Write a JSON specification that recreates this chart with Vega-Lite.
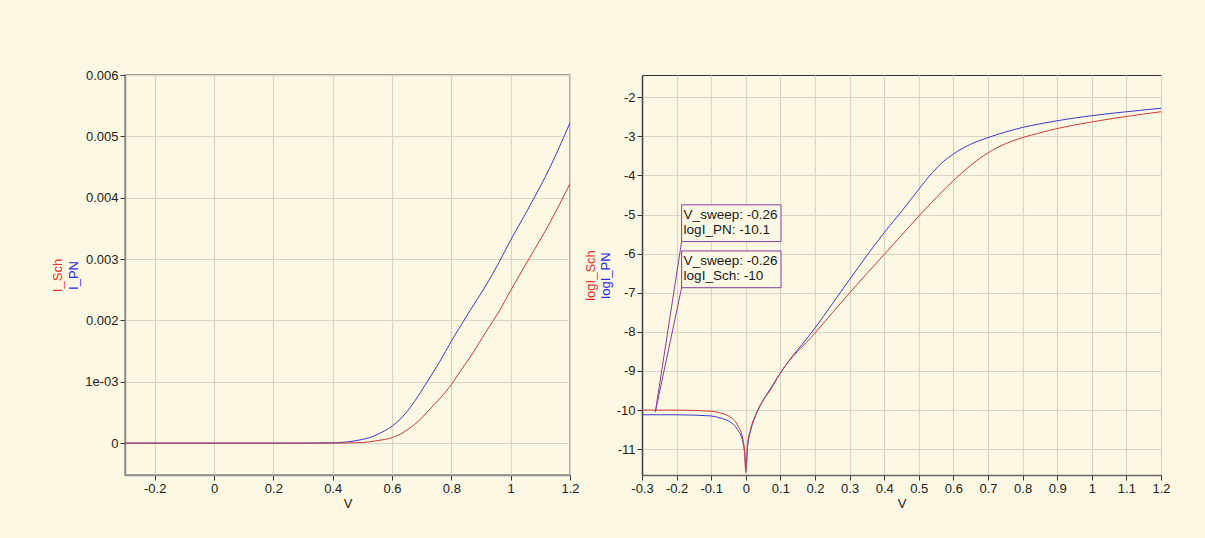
{
  "$schema": "https://vega.github.io/schema/vega-lite/v6.json",
  "background": "#fdf8e3",
  "padding": {"left": 50, "top": 68, "right": 54, "bottom": 30},
  "spacing": 3,
  "config": {
    "view": {"fill": "#fdf8e3"},
    "axis": {
      "labelFont": "Liberation Sans", "labelFontSize": 13, "labelColor": "#222222",
      "titleFont": "Liberation Sans", "titleFontSize": 13, "titleFontWeight": "normal", "titleColor": "#222222",
      "gridColor": "#d9d4c6", "gridWidth": 1.2, "tickColor": "#333333", "tickSize": 5, "labelPadding": 2,
      "domainColor": "#8c8c8c", "domainWidth": 1.5, "labelOverlap": false, "labelBound": false, "labelFlush": false
    }
  },
  "datasets": {
    "I_PN": [
      {"V": -0.3, "I": 0}, {"V": 0.3, "I": 0}, {"V": 0.4, "I": 0.000005}, {"V": 0.45, "I": 0.00002},
      {"V": 0.5, "I": 0.00006}, {"V": 0.526, "I": 0.00009}, {"V": 0.55, "I": 0.00014}, {"V": 0.575, "I": 0.0002},
      {"V": 0.601, "I": 0.00028}, {"V": 0.63, "I": 0.0004}, {"V": 0.661, "I": 0.00058}, {"V": 0.69, "I": 0.00078},
      {"V": 0.717, "I": 0.00099}, {"V": 0.76, "I": 0.00132}, {"V": 0.801, "I": 0.00167}, {"V": 0.83, "I": 0.0019},
      {"V": 0.863, "I": 0.00216}, {"V": 0.919, "I": 0.00259}, {"V": 0.96, "I": 0.00294}, {"V": 0.999, "I": 0.0033},
      {"V": 1.065, "I": 0.00387}, {"V": 1.133, "I": 0.0045}, {"V": 1.2, "I": 0.00522}
    ],
    "I_Sch": [
      {"V": -0.3, "I": 0}, {"V": 0.4, "I": 0}, {"V": 0.5, "I": 0.00001}, {"V": 0.55, "I": 0.00004},
      {"V": 0.601, "I": 0.00009}, {"V": 0.63, "I": 0.00015}, {"V": 0.661, "I": 0.00025}, {"V": 0.69, "I": 0.00036},
      {"V": 0.717, "I": 0.0005}, {"V": 0.76, "I": 0.00072}, {"V": 0.801, "I": 0.00096}, {"V": 0.83, "I": 0.00117},
      {"V": 0.863, "I": 0.0014}, {"V": 0.919, "I": 0.00183}, {"V": 0.96, "I": 0.00214}, {"V": 0.999, "I": 0.00248},
      {"V": 1.065, "I": 0.00303}, {"V": 1.133, "I": 0.0036}, {"V": 1.2, "I": 0.00423}
    ],
    "logI_PN": [
      {"V": -0.3, "L": -10.12}, {"V": -0.2, "L": -10.12}, {"V": -0.1, "L": -10.15}, {"V": -0.075, "L": -10.2},
      {"V": -0.048, "L": -10.29}, {"V": -0.024, "L": -10.5}, {"V": -0.009, "L": -10.8}, {"V": -0.003, "L": -11.15},
      {"V": 0, "L": -11.5}, {"V": 0.005, "L": -10.95}, {"V": 0.015, "L": -10.5}, {"V": 0.03, "L": -10.1},
      {"V": 0.05, "L": -9.75}, {"V": 0.07, "L": -9.47}, {"V": 0.1, "L": -9.05}, {"V": 0.2, "L": -7.9},
      {"V": 0.3, "L": -6.66}, {"V": 0.4, "L": -5.46}, {"V": 0.45, "L": -4.92}, {"V": 0.5, "L": -4.35},
      {"V": 0.54, "L": -3.92}, {"V": 0.57, "L": -3.65}, {"V": 0.6, "L": -3.45}, {"V": 0.65, "L": -3.2}, {"V": 0.7, "L": -3.03},
      {"V": 0.75, "L": -2.89}, {"V": 0.8, "L": -2.77}, {"V": 0.85, "L": -2.68}, {"V": 0.9, "L": -2.6},
      {"V": 0.95, "L": -2.53}, {"V": 1.0, "L": -2.47}, {"V": 1.1, "L": -2.37}, {"V": 1.2, "L": -2.28}
    ],
    "logI_Sch": [
      {"V": -0.3, "L": -10.0}, {"V": -0.2, "L": -10.0}, {"V": -0.1, "L": -10.03}, {"V": -0.075, "L": -10.07},
      {"V": -0.048, "L": -10.16}, {"V": -0.024, "L": -10.38}, {"V": -0.009, "L": -10.72}, {"V": -0.003, "L": -11.1},
      {"V": 0, "L": -11.6}, {"V": 0.005, "L": -10.9}, {"V": 0.015, "L": -10.45}, {"V": 0.03, "L": -10.1},
      {"V": 0.05, "L": -9.75}, {"V": 0.07, "L": -9.5}, {"V": 0.1, "L": -9.05}, {"V": 0.2, "L": -8.03},
      {"V": 0.3, "L": -7.0}, {"V": 0.4, "L": -6.02}, {"V": 0.45, "L": -5.53}, {"V": 0.5, "L": -5.04},
      {"V": 0.55, "L": -4.57}, {"V": 0.6, "L": -4.13}, {"V": 0.65, "L": -3.74}, {"V": 0.7, "L": -3.42},
      {"V": 0.75, "L": -3.19}, {"V": 0.8, "L": -3.03}, {"V": 0.85, "L": -2.91}, {"V": 0.9, "L": -2.8},
      {"V": 0.95, "L": -2.71}, {"V": 1.0, "L": -2.63}, {"V": 1.1, "L": -2.49}, {"V": 1.2, "L": -2.37}
    ],
    "boxes": [
      {"V": -0.1855, "V2": 0.1017, "y": -4.75, "y2": -5.69, "label": "V_sweep: -0.26\nlogI_PN: -10.1"},
      {"V": -0.1855, "V2": 0.1017, "y": -5.93, "y2": -6.87, "label": "V_sweep: -0.26\nlogI_Sch: -10"}
    ],
    "leaders": [
      {"V": -0.2615, "y": -10.05, "V2": -0.1855, "y2": -5.69},
      {"V": -0.2615, "y": -10.05, "V2": -0.1855, "y2": -6.87}
    ]
  },
  "hconcat": [
    {
      "width": 445, "height": 400,
      "view": {"stroke": "#8c8c8c", "strokeWidth": 1.5, "fill": "#fdf8e3"},
      "resolve": {"axis": {"y": "independent"}},
      "layer": [
        {
          "data": {"name": "I_PN"},
          "mark": {"type": "line", "color": "#3a3ad0", "strokeWidth": 1, "clip": true, "interpolate": "monotone"},
          "encoding": {
            "x": {"field": "V", "type": "quantitative", "scale": {"domain": [-0.3, 1.2], "nice": false, "zero": false},
                  "axis": {"title": "V", "titlePadding": 2, "values": [-0.2, 0, 0.2, 0.4, 0.6, 0.8, 1, 1.2], "tickCount": 20, "labelExpr": "toString(datum.value)", "grid": true, "labelOverlap": false, "labelFlush": false}},
            "y": {"field": "I", "type": "quantitative", "scale": {"domain": [-0.00052, 0.006], "nice": false, "zero": false},
                  "axis": {"orient": "left", "title": "I_PN", "titleColor": "#2a2ae8", "titlePadding": 4, "values": [0, 0.001, 0.002, 0.003, 0.004, 0.005, 0.006], "tickCount": 20,
                           "labelExpr": "datum.value == 0.001 ? '1e-03' : toString(datum.value)", "grid": true, "labelOverlap": false, "labelFlush": false}}
          }
        },
        {
          "data": {"name": "I_Sch"},
          "mark": {"type": "line", "color": "#d23a3a", "strokeWidth": 1, "clip": true, "interpolate": "monotone"},
          "encoding": {
            "x": {"field": "V", "type": "quantitative", "scale": {"domain": [-0.3, 1.2], "nice": false, "zero": false}},
            "y": {"field": "I", "type": "quantitative", "scale": {"domain": [-0.00052, 0.006], "nice": false, "zero": false},
                  "axis": {"orient": "left", "title": "I_Sch", "titleColor": "#e8302a", "titleX": -61, "labels": false, "ticks": false, "domain": false, "grid": false}}
          }
        }
      ]
    },
    {
      "width": 519, "height": 400,
      "view": {"stroke": "#333333", "strokeWidth": 1, "fill": "#fdf8e3"},
      "resolve": {"axis": {"y": "independent"}},
      "layer": [
        {
          "data": {"name": "logI_PN"},
          "mark": {"type": "line", "color": "#3a3ad0", "strokeWidth": 1, "clip": true, "interpolate": "monotone"},
          "encoding": {
            "x": {"field": "V", "type": "quantitative", "scale": {"domain": [-0.3, 1.2], "nice": false, "zero": false},
                  "axis": {"title": "V", "titlePadding": 2, "values": [-0.3, -0.2, -0.1, 0, 0.1, 0.2, 0.3, 0.4, 0.5, 0.6, 0.7, 0.8, 0.9, 1, 1.1, 1.2], "tickCount": 30,
                           "labelExpr": "toString(datum.value)", "grid": true, "domainColor": "#666666", "labelOverlap": false, "labelBound": false, "labelFlush": false}},
            "y": {"field": "L", "type": "quantitative", "scale": {"domain": [-11.66, -1.43], "nice": false, "zero": false},
                  "axis": {"orient": "left", "title": "logI_PN", "titleColor": "#2a2ae8", "titlePadding": 4, "values": [-11, -10, -9, -8, -7, -6, -5, -4, -3, -2], "tickCount": 20,
                           "labelExpr": "toString(datum.value)", "grid": true, "domainColor": "#444444", "labelOverlap": false, "labelFlush": false}}
          }
        },
        {
          "data": {"name": "logI_Sch"},
          "mark": {"type": "line", "color": "#d23a3a", "strokeWidth": 1, "clip": true, "interpolate": "monotone"},
          "encoding": {
            "x": {"field": "V", "type": "quantitative", "scale": {"domain": [-0.3, 1.2], "nice": false, "zero": false}},
            "y": {"field": "L", "type": "quantitative", "scale": {"domain": [-11.66, -1.43], "nice": false, "zero": false},
                  "axis": {"orient": "left", "title": "logI_Sch", "titleColor": "#e8302a", "titleX": -45, "labels": false, "ticks": false, "domain": false, "grid": false}}
          }
        },
        {
          "data": {"name": "leaders"},
          "mark": {"type": "rule", "color": "#8a3c9c", "strokeWidth": 1},
          "encoding": {
            "x": {"field": "V", "type": "quantitative"},
            "y": {"field": "y", "type": "quantitative", "axis": null},
            "x2": {"field": "V2"},
            "y2": {"field": "y2"}
          }
        },
        {
          "data": {"name": "boxes"},
          "mark": {"type": "rect", "fill": "#fdf8e3", "stroke": "#8a3c9c", "strokeWidth": 1},
          "encoding": {
            "x": {"field": "V", "type": "quantitative"},
            "x2": {"field": "V2"},
            "y": {"field": "y", "type": "quantitative", "axis": null},
            "y2": {"field": "y2"}
          }
        },
        {
          "data": {"name": "boxes"},
          "mark": {"type": "text", "align": "left", "baseline": "top", "dx": 2, "dy": 3, "font": "Liberation Sans", "fontSize": 13.5, "color": "#1a1a1a", "lineBreak": "\n", "lineHeight": 15},
          "encoding": {
            "x": {"field": "V", "type": "quantitative"},
            "y": {"field": "y", "type": "quantitative", "axis": null},
            "text": {"field": "label"}
          }
        }
      ]
    }
  ]
}
